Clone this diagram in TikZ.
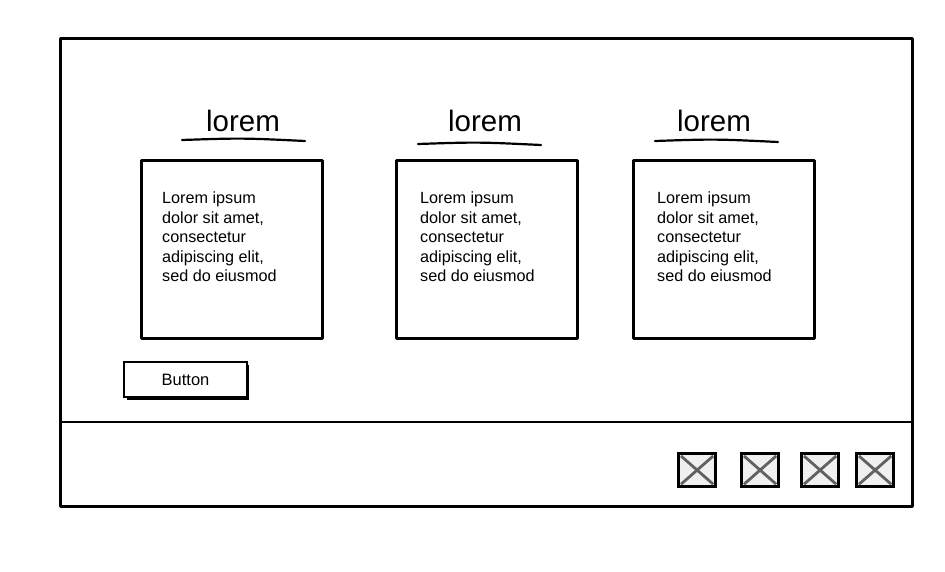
\documentclass[tikz,border=0pt]{standalone}
\usepackage{fontspec}
\setmainfont{Liberation Sans}
\begin{document}
\begin{tikzpicture}[x=1pt,y=-1pt,
  sk/.style={draw=black,line width=2.7pt,line join=round},
  card/.style={sk,fill=white},
  head/.style={font=\fontsize{29.5}{32}\selectfont,anchor=center,inner sep=0pt},
  body/.style={font=\fontsize{16.2}{19.5}\selectfont,align=left,anchor=north west,inner sep=0pt},
  uline/.style={line width=2.2pt,line cap=round},
  icon/.style={draw=black,line width=3.2pt,fill=black!6},
  cross/.style={draw=black!62,line width=2.8pt}
]
\useasboundingbox (0,0) rectangle (945,572);
\fill[white] (0,0) rectangle (945,572);
% frame
\node[sk,minimum width=852pt,minimum height=468pt,anchor=north west,inner sep=0pt] (frame) at (59,37) {};
\coordinate (dl) at (59,422);
\coordinate (dr) at (911,422);
\draw[sk] (dl) -- (dr);
% cards
\foreach \i/\x/\hx/\ux/\uy/\tx in {1/140/243/182/140/162, 2/395/485/418/144/420, 3/632/714/655/141/657}{
  \node[card,minimum width=181pt,minimum height=178pt,anchor=north west,inner sep=0pt] (card\i) at (\x,159) {};
  \node[head] (head\i) at (\hx,121) {lorem};
  \coordinate (ua\i) at (\ux,\uy);
  \coordinate (ub\i) at (\ux+123,\uy+1);
  \draw[uline] (ua\i) .. controls (\ux+60,\uy-2) .. (ub\i);
  \node[body] (text\i) at (\tx,192) {Lorem ipsum\\dolor sit amet,\\consectetur\\adipiscing elit,\\sed do eiusmod};
}
% button
\fill[black] (127,365) rectangle (249,400);
\node[draw=black,line width=2pt,fill=white,minimum width=123pt,minimum height=35pt,anchor=north west,inner sep=0pt] (btn) at (123,361) {};
\node[font=\fontsize{16.5}{18}\selectfont,inner sep=0pt] (btntext) at (btn.center) {Button};
% icons
\foreach \i/\x in {1/677,2/740,3/800,4/855}{
  \node[icon,minimum width=37pt,minimum height=33pt,anchor=north west,inner sep=0pt] (ic\i) at (\x,452) {};
  \draw[cross] ([shift={(4pt,-4pt)}]ic\i.north west) -- ([shift={(-4pt,4pt)}]ic\i.south east);
  \draw[cross] ([shift={(-4pt,-4pt)}]ic\i.north east) -- ([shift={(4pt,4pt)}]ic\i.south west);
}
\end{tikzpicture}
\end{document}
